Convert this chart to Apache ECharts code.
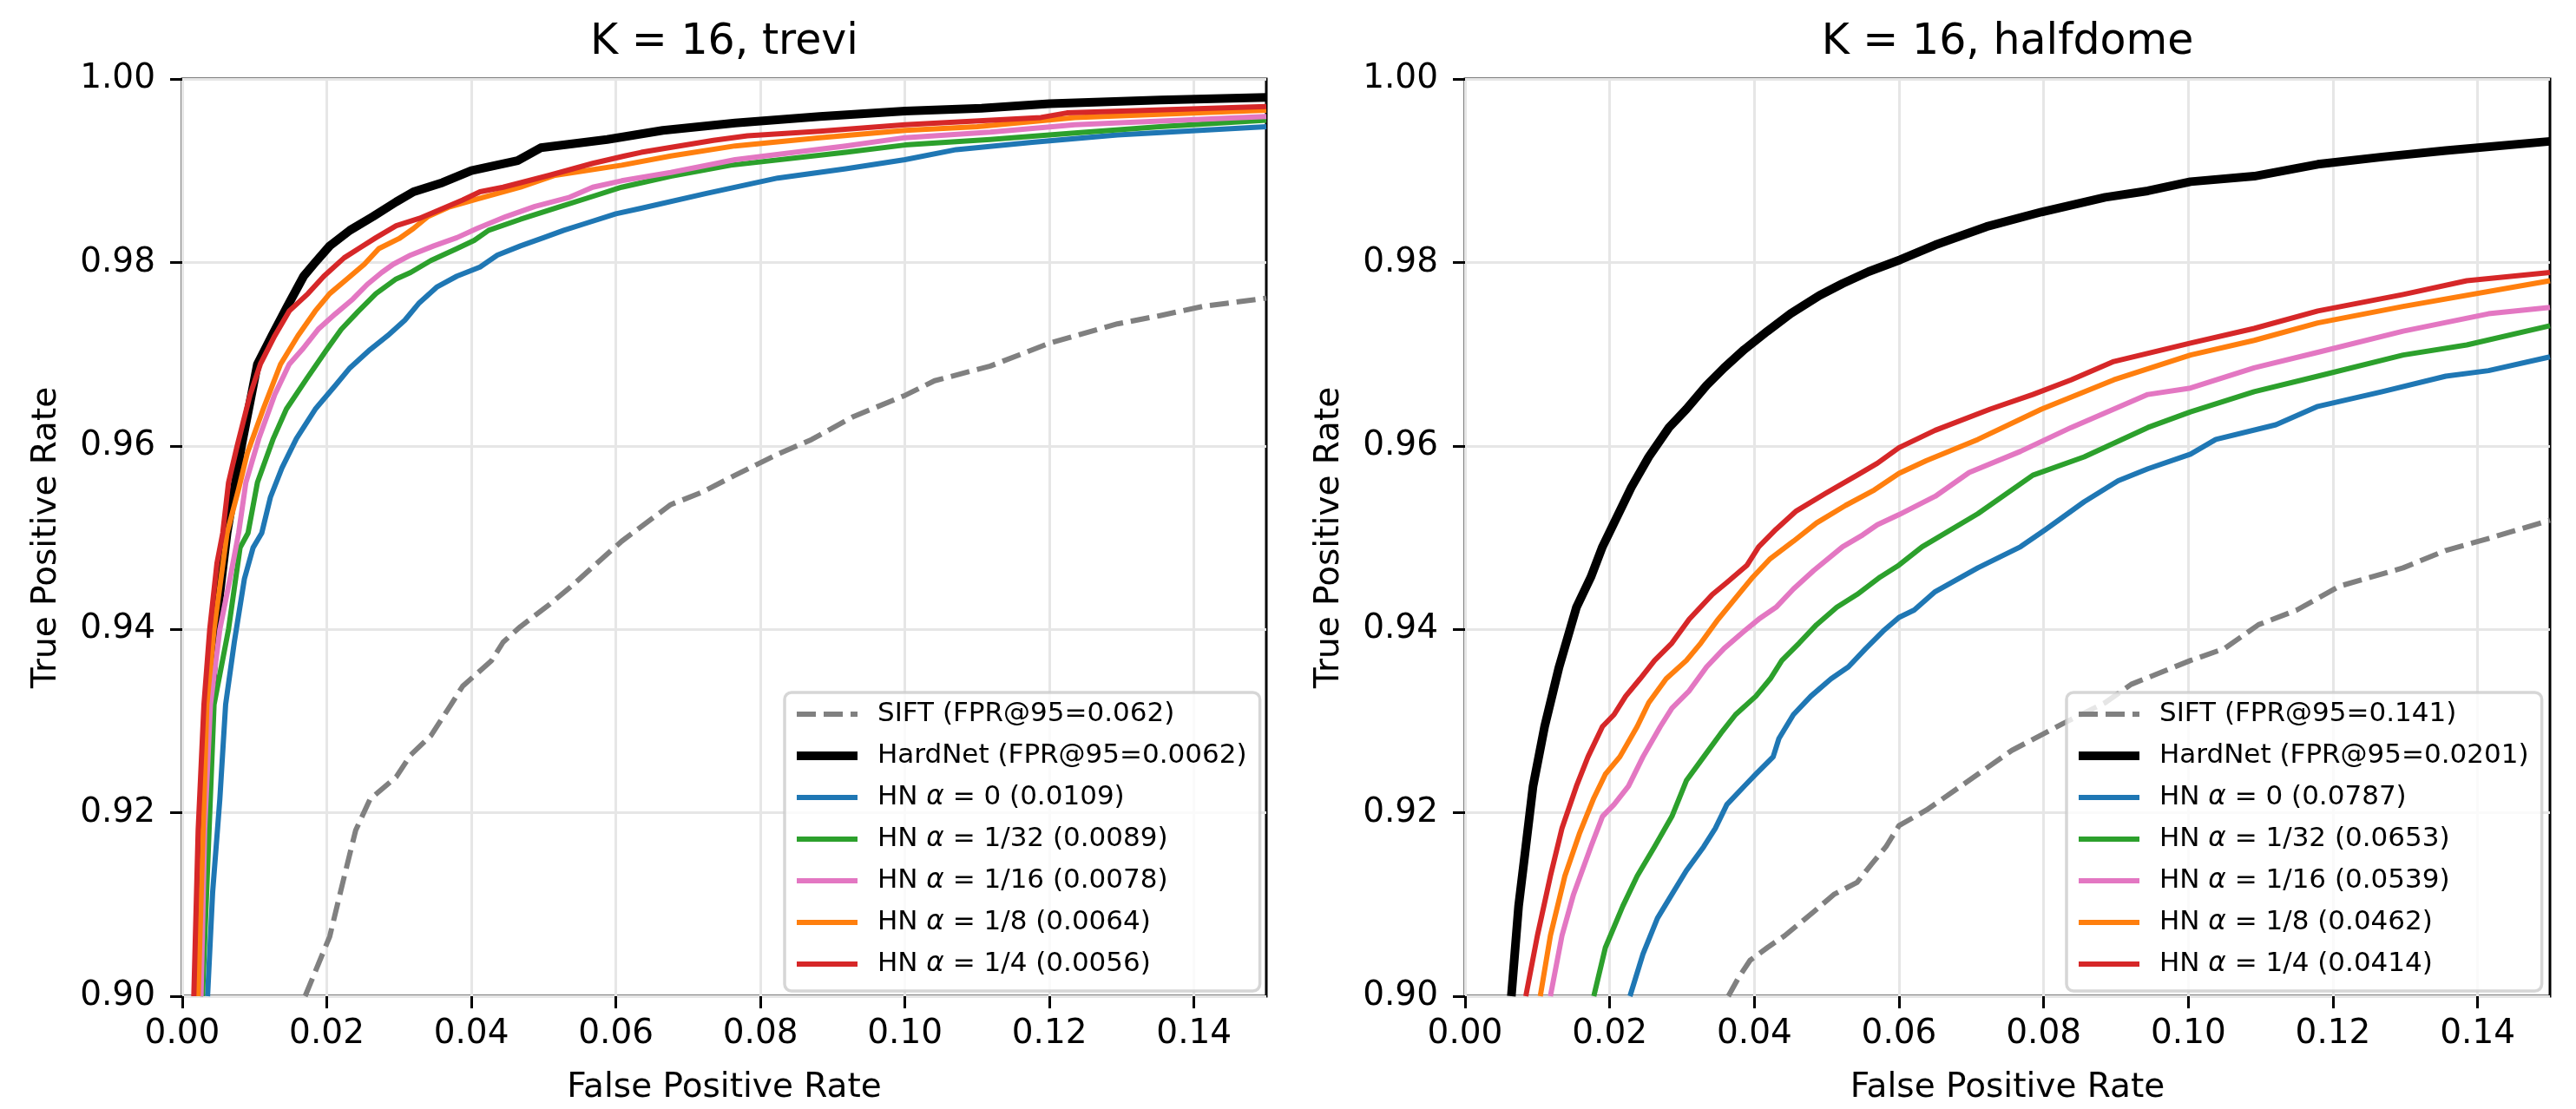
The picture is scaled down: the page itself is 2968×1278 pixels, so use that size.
<!DOCTYPE html>
<html>
<head>
<meta charset="utf-8">
<script src="https://cdn.jsdelivr.net/npm/echarts@6/dist/echarts.min.js"></script>
<style>
  html, body { margin: 0; padding: 0; background: #fff; }
  #main { width: 2968px; height: 1278px; }
</style>
</head>
<body>
<div id="main"></div>
<script>
// 坐标刻度
const xTicks = [0, 0.02, 0.04, 0.06, 0.08, 0.10, 0.12, 0.14];
const yTicks = [0.90, 0.92, 0.94, 0.96, 0.98, 1.00];

const plotTitles = ['K = 16, trevi', 'K = 16, halfdome'];

// trevi: [FPR, TPR]
const siftTrevi = [[0.017,0.90],[0.0204,0.9065],[0.0224,0.913],[0.024,0.9181],[0.026,0.9215],[0.0296,0.9239],[0.0316,0.9263],[0.0344,0.9284],[0.0372,0.9318],[0.0388,0.9338],[0.0428,0.9366],[0.0444,0.9386],[0.0468,0.9403],[0.0508,0.9427],[0.054,0.9448],[0.0568,0.9468],[0.0608,0.9496],[0.0676,0.9536],[0.0718,0.9549],[0.0765,0.9568],[0.0824,0.9591],[0.0871,0.9607],[0.0929,0.9632],[0.10,0.9655],[0.1041,0.9671],[0.1118,0.9687],[0.12,0.9712],[0.1294,0.9733],[0.1353,0.9742],[0.1412,0.9752],[0.15,0.9761]];
const hardnetTrevi = [[0.0023,0.90],[0.0034,0.925],[0.0046,0.94],[0.0062,0.9505],[0.0082,0.96],[0.0104,0.9689],[0.0124,0.972],[0.0146,0.9753],[0.0168,0.9785],[0.0184,0.98],[0.0204,0.9818],[0.0232,0.9835],[0.0264,0.985],[0.0296,0.9866],[0.032,0.9877],[0.036,0.9887],[0.040,0.990],[0.0464,0.9911],[0.0496,0.9925],[0.0588,0.9934],[0.0665,0.9944],[0.0765,0.9952],[0.0882,0.9959],[0.10,0.9965],[0.1106,0.9968],[0.12,0.9973],[0.1353,0.9977],[0.15,0.998]];
const hn0Trevi = [[0.0035,0.90],[0.0042,0.9113],[0.0052,0.9215],[0.006,0.9318],[0.0072,0.9386],[0.0086,0.9455],[0.0098,0.9489],[0.011,0.9505],[0.0122,0.9544],[0.0138,0.9576],[0.0158,0.9608],[0.0184,0.964],[0.0212,0.9666],[0.0232,0.9685],[0.026,0.9705],[0.0284,0.972],[0.0308,0.9737],[0.0328,0.9756],[0.0352,0.9773],[0.038,0.9785],[0.0412,0.9795],[0.0436,0.9808],[0.0468,0.9818],[0.05,0.9827],[0.0528,0.9835],[0.0556,0.9842],[0.06,0.9853],[0.0635,0.9859],[0.0724,0.9875],[0.0824,0.9892],[0.0918,0.9902],[0.10,0.9912],[0.1071,0.9923],[0.1176,0.9931],[0.1294,0.9939],[0.15,0.9948]];
const hn32Trevi = [[0.0028,0.90],[0.0044,0.9318],[0.0064,0.94],[0.008,0.9489],[0.0091,0.9505],[0.0104,0.956],[0.0126,0.9608],[0.0144,0.964],[0.0172,0.9673],[0.02,0.9705],[0.022,0.9727],[0.0244,0.9747],[0.0268,0.9766],[0.0296,0.9782],[0.0316,0.9789],[0.0344,0.9802],[0.038,0.9815],[0.0404,0.9824],[0.0424,0.9835],[0.0468,0.9847],[0.052,0.986],[0.0572,0.9873],[0.0608,0.9882],[0.0676,0.9894],[0.0759,0.9906],[0.0918,0.992],[0.10,0.9928],[0.1118,0.9934],[0.1235,0.9941],[0.1353,0.9948],[0.15,0.9955]];
const hn16Trevi = [[0.0026,0.90],[0.0031,0.9181],[0.0039,0.9318],[0.0052,0.94],[0.0066,0.9455],[0.0078,0.9505],[0.0088,0.956],[0.0106,0.9608],[0.0128,0.9656],[0.0148,0.9689],[0.0166,0.9705],[0.0188,0.9727],[0.0212,0.9744],[0.0236,0.976],[0.0256,0.9776],[0.0276,0.9789],[0.0292,0.9798],[0.0316,0.9808],[0.0348,0.9818],[0.038,0.9827],[0.0408,0.9837],[0.0448,0.985],[0.0488,0.9861],[0.0536,0.9871],[0.0568,0.9882],[0.0608,0.9889],[0.0676,0.9898],[0.0765,0.9912],[0.0918,0.9927],[0.10,0.9936],[0.1118,0.9942],[0.1235,0.995],[0.15,0.9959]];
const hn8Trevi = [[0.0022,0.90],[0.0034,0.9318],[0.0044,0.94],[0.0062,0.9505],[0.0078,0.9553],[0.009,0.9592],[0.0112,0.964],[0.0136,0.9689],[0.016,0.972],[0.0184,0.9747],[0.0204,0.9766],[0.0228,0.9782],[0.0252,0.9798],[0.0272,0.9815],[0.030,0.9826],[0.032,0.9837],[0.034,0.985],[0.0368,0.986],[0.0408,0.9869],[0.0468,0.9882],[0.0516,0.9895],[0.0608,0.9906],[0.0676,0.9916],[0.0765,0.9927],[0.0882,0.9936],[0.10,0.9944],[0.11,0.9948],[0.1235,0.9958],[0.15,0.9966]];
const hn4Trevi = [[0.0016,0.90],[0.0022,0.9181],[0.003,0.9318],[0.0038,0.94],[0.0048,0.9472],[0.0056,0.9505],[0.0064,0.956],[0.0076,0.96],[0.0094,0.9656],[0.0108,0.9689],[0.0128,0.972],[0.0148,0.9747],[0.0174,0.9766],[0.0196,0.9785],[0.0224,0.9805],[0.0244,0.9815],[0.0268,0.9827],[0.0296,0.984],[0.0328,0.9848],[0.0352,0.9856],[0.0388,0.9868],[0.0412,0.9877],[0.0444,0.9882],[0.0508,0.9895],[0.0568,0.9908],[0.0612,0.9916],[0.0635,0.992],[0.0735,0.9933],[0.0782,0.9938],[0.0882,0.9943],[0.10,0.995],[0.1188,0.9958],[0.1224,0.9963],[0.15,0.997]];

// halfdome: [FPR, TPR]
const siftHalf = [[0.0364,0.90],[0.0378,0.902],[0.0394,0.9039],[0.0418,0.9053],[0.0442,0.9066],[0.0462,0.9079],[0.0482,0.9092],[0.051,0.9111],[0.0542,0.9124],[0.0562,0.9144],[0.0582,0.9163],[0.06,0.9186],[0.0638,0.9203],[0.0691,0.9232],[0.0756,0.9268],[0.0826,0.9297],[0.0885,0.932],[0.0921,0.934],[0.1003,0.9366],[0.105,0.9379],[0.1097,0.9405],[0.115,0.9421],[0.1209,0.9447],[0.1297,0.9467],[0.1356,0.9486],[0.1415,0.9499],[0.15,0.9519]];
const hardnetHalf = [[0.0064,0.90],[0.0074,0.9098],[0.0084,0.9163],[0.0094,0.9229],[0.011,0.9294],[0.013,0.9359],[0.0154,0.9424],[0.0174,0.9457],[0.019,0.949],[0.0206,0.9516],[0.023,0.9555],[0.0254,0.9588],[0.0282,0.962],[0.0306,0.964],[0.0334,0.9666],[0.0358,0.9685],[0.0386,0.9705],[0.0418,0.9725],[0.045,0.9744],[0.049,0.9764],[0.0522,0.9777],[0.0558,0.979],[0.0602,0.9803],[0.065,0.9819],[0.0721,0.9839],[0.0797,0.9855],[0.0885,0.9871],[0.0944,0.9878],[0.1003,0.9888],[0.1091,0.9894],[0.1179,0.9907],[0.1268,0.9915],[0.1356,0.9922],[0.15,0.9932]];
const hn0Half = [[0.0228,0.90],[0.0246,0.9046],[0.0266,0.9085],[0.0286,0.9111],[0.0306,0.9137],[0.033,0.9163],[0.0346,0.9183],[0.0362,0.9209],[0.0386,0.9229],[0.0402,0.9242],[0.0426,0.9261],[0.0434,0.9281],[0.0454,0.9307],[0.0478,0.9327],[0.0506,0.9346],[0.053,0.9359],[0.0554,0.9379],[0.0578,0.9398],[0.06,0.9413],[0.0621,0.9421],[0.065,0.9441],[0.0709,0.9467],[0.0768,0.949],[0.0803,0.9509],[0.0856,0.9539],[0.0903,0.9562],[0.0944,0.9575],[0.1003,0.9591],[0.1038,0.9607],[0.1121,0.9623],[0.1179,0.9643],[0.1268,0.9659],[0.1356,0.9676],[0.1415,0.9682],[0.15,0.9697]];
const hn32Half = [[0.0178,0.90],[0.0194,0.9053],[0.0218,0.9098],[0.0238,0.9131],[0.0262,0.9163],[0.0286,0.9196],[0.0306,0.9235],[0.033,0.9261],[0.0354,0.9287],[0.0374,0.9307],[0.0402,0.9327],[0.0422,0.9346],[0.0438,0.9366],[0.0462,0.9385],[0.0486,0.9405],[0.0514,0.9424],[0.0542,0.9438],[0.0574,0.9457],[0.06,0.947],[0.0632,0.949],[0.0709,0.9526],[0.0785,0.9568],[0.0856,0.9588],[0.0944,0.962],[0.1003,0.9637],[0.1091,0.9659],[0.1179,0.9676],[0.1297,0.9699],[0.1385,0.971],[0.15,0.9731]];
const hn16Half = [[0.0118,0.90],[0.0134,0.9066],[0.015,0.9111],[0.0174,0.9163],[0.019,0.9196],[0.0206,0.9209],[0.0226,0.9229],[0.0246,0.9261],[0.027,0.9294],[0.0286,0.9314],[0.031,0.9333],[0.0334,0.9359],[0.0358,0.9379],[0.0386,0.9398],[0.0406,0.9411],[0.043,0.9424],[0.0454,0.9444],[0.0482,0.9464],[0.0522,0.949],[0.055,0.9503],[0.057,0.9514],[0.06,0.9525],[0.065,0.9545],[0.0697,0.9571],[0.0768,0.9594],[0.0838,0.962],[0.0944,0.9656],[0.1003,0.9663],[0.1091,0.9685],[0.1179,0.9702],[0.1297,0.9725],[0.1415,0.9744],[0.15,0.9751]];
const hn8Half = [[0.0104,0.90],[0.0118,0.9066],[0.0138,0.9131],[0.0158,0.9177],[0.0178,0.9216],[0.0194,0.9242],[0.0214,0.9261],[0.0238,0.9294],[0.0254,0.932],[0.0278,0.9346],[0.0306,0.9366],[0.0326,0.9385],[0.035,0.9411],[0.0378,0.9438],[0.0398,0.9457],[0.0422,0.9477],[0.0454,0.9496],[0.0486,0.9516],[0.0526,0.9535],[0.0566,0.9552],[0.06,0.957],[0.0638,0.9584],[0.0709,0.9607],[0.0797,0.964],[0.0897,0.9672],[0.1003,0.9699],[0.1091,0.9715],[0.1179,0.9734],[0.1297,0.9752],[0.15,0.978]];
const hn4Half = [[0.0084,0.90],[0.01,0.9066],[0.0118,0.9131],[0.0134,0.9183],[0.0154,0.9229],[0.017,0.9261],[0.019,0.9294],[0.0206,0.9307],[0.0222,0.9327],[0.0242,0.9346],[0.0262,0.9366],[0.0286,0.9385],[0.031,0.9411],[0.0342,0.9438],[0.0362,0.9451],[0.039,0.947],[0.0406,0.949],[0.043,0.9509],[0.0458,0.9529],[0.0498,0.9548],[0.0542,0.9568],[0.057,0.9581],[0.06,0.9598],[0.065,0.9617],[0.0726,0.964],[0.0785,0.9656],[0.0838,0.9672],[0.0897,0.9692],[0.1003,0.9712],[0.1091,0.9728],[0.1179,0.9747],[0.1297,0.9765],[0.1385,0.978],[0.15,0.9789]];

const namesTrevi = ['SIFT (FPR@95=0.062)', 'HardNet (FPR@95=0.0062)', 'HN α = 0 (0.0109)', 'HN α = 1/32 (0.0089)', 'HN α = 1/16 (0.0078)', 'HN α = 1/8 (0.0064)', 'HN α = 1/4 (0.0056)'];
const namesHalf = ['SIFT (FPR@95=0.141)', 'HardNet (FPR@95=0.0201)', 'HN α = 0 (0.0787)', 'HN α = 1/32 (0.0653)', 'HN α = 1/16 (0.0539)', 'HN α = 1/8 (0.0462)', 'HN α = 1/4 (0.0414)'];

const dataTrevi = [siftTrevi, hardnetTrevi, hn0Trevi, hn32Trevi, hn16Trevi, hn8Trevi, hn4Trevi];
const dataHalf = [siftHalf, hardnetHalf, hn0Half, hn32Half, hn16Half, hn8Half, hn4Half];

// 线条样式（顺序同上）
const lineColors = ['#808080', '#000000', '#1f77b4', '#2ca02c', '#e377c2', '#ff7f0e', '#d62728'];
const lineWidths = [6, 10, 6, 6, 6, 6, 6];

const FONT = 'DejaVu Sans';
const gridPos = [
    { left: 210, top: 91, width: 1249, height: 1066 },
    { left: 1688, top: 91, width: 1250, height: 1066 }
];

var myChart = echarts.init(document.getElementById('main'), null, { renderer: 'canvas' });

function makeSeries(names, datas, axisIdx) {
    return names.map((name, i) => ({
        name: name,
        type: 'line',
        xAxisIndex: axisIdx,
        yAxisIndex: axisIdx,
        data: datas[i],
        showSymbol: false,
        symbol: 'none',
        clip: true,
        z: 2 + i,
        lineStyle: {
            color: lineColors[i],
            width: lineWidths[i],
            type: i === 0 ? [22, 9] : 'solid',
            cap: 'butt',
            join: 'round'
        },
        itemStyle: { color: lineColors[i] },
        emphasis: { disabled: true }
    }));
}

function makeXAxis(idx) {
    return {
        type: 'value',
        gridIndex: idx,
        min: 0,
        max: 0.15,
        interval: 0.02,
        name: 'False Positive Rate',
        nameLocation: 'middle',
        nameGap: 86,
        nameTextStyle: { fontSize: 39, fontFamily: FONT, color: '#000' },
        axisLine: { show: false },
        axisTick: { show: true, customValues: xTicks, length: 14, lineStyle: { color: '#000', width: 3 } },
        axisLabel: {
            customValues: xTicks,
            fontSize: 39, fontFamily: FONT, color: '#000', margin: 24,
            formatter: v => (v > 0.145 ? '' : v.toFixed(2))
        },
        splitLine: { show: true, lineStyle: { color: '#e6e6e6', width: 3 } }
    };
}

function makeYAxis(idx) {
    return {
        type: 'value',
        gridIndex: idx,
        min: 0.90,
        max: 1.00,
        interval: 0.02,
        name: 'True Positive Rate',
        nameLocation: 'middle',
        nameRotate: 90,
        nameGap: 137,
        nameTextStyle: { fontSize: 39, fontFamily: FONT, color: '#000' },
        axisLine: { show: false },
        axisTick: { show: true, customValues: yTicks, length: 14, lineStyle: { color: '#000', width: 3 } },
        axisLabel: {
            customValues: yTicks,
            fontSize: 39, fontFamily: FONT, color: '#000', margin: 31,
            formatter: v => v.toFixed(2)
        },
        splitLine: { show: true, lineStyle: { color: '#e6e6e6', width: 3 } }
    };
}

function makeLegend(names, left) {
    return {
        data: names,
        orient: 'vertical',
        left: left,
        top: 798,
        itemWidth: 70,
        itemHeight: 14,
        itemGap: 14,
        padding: [8, 15, 14, 9],
        backgroundColor: 'rgba(255,255,255,0.8)',
        borderColor: 'rgba(204,204,204,0.8)',
        borderWidth: 3.5,
        borderRadius: 8,
        selectedMode: false,
        // 图例只画线，不画圆点
        itemStyle: { opacity: 0, borderWidth: 0 },
        lineStyle: { width: 'inherit', type: 'inherit', cap: 'butt' },
        formatter: name => name.replace('α', '{a|α}'),
        textStyle: {
            fontSize: 31,
            fontFamily: FONT,
            color: '#000',
            lineHeight: 34,
            padding: [0, 0, 0, 18],
            rich: {
                a: { fontSize: 31, fontFamily: FONT, fontStyle: 'italic', color: '#000', lineHeight: 34 }
            }
        }
    };
}

const option = {
    backgroundColor: '#ffffff',
    animation: false,
    grid: gridPos.map(g => ({
        left: g.left, top: g.top, width: g.width, height: g.height,
        show: true, borderColor: '#000', borderWidth: 3, backgroundColor: 'transparent'
    })),
    xAxis: [makeXAxis(0), makeXAxis(1)],
    yAxis: [makeYAxis(0), makeYAxis(1)],
    legend: [makeLegend(namesTrevi, 904), makeLegend(namesHalf, 2381)],
    graphic: plotTitles.map((t, i) => ({
        type: 'text',
        x: gridPos[i].left + gridPos[i].width / 2,
        y: 49,
        style: {
            text: t,
            fontSize: 49,
            fontFamily: FONT,
            fill: '#000',
            textAlign: 'center',
            textVerticalAlign: 'middle'
        }
    })),
    series: makeSeries(namesTrevi, dataTrevi, 0).concat(makeSeries(namesHalf, dataHalf, 1))
};

myChart.setOption(option);
window.addEventListener('resize', myChart.resize);
</script>
</body>
</html>
